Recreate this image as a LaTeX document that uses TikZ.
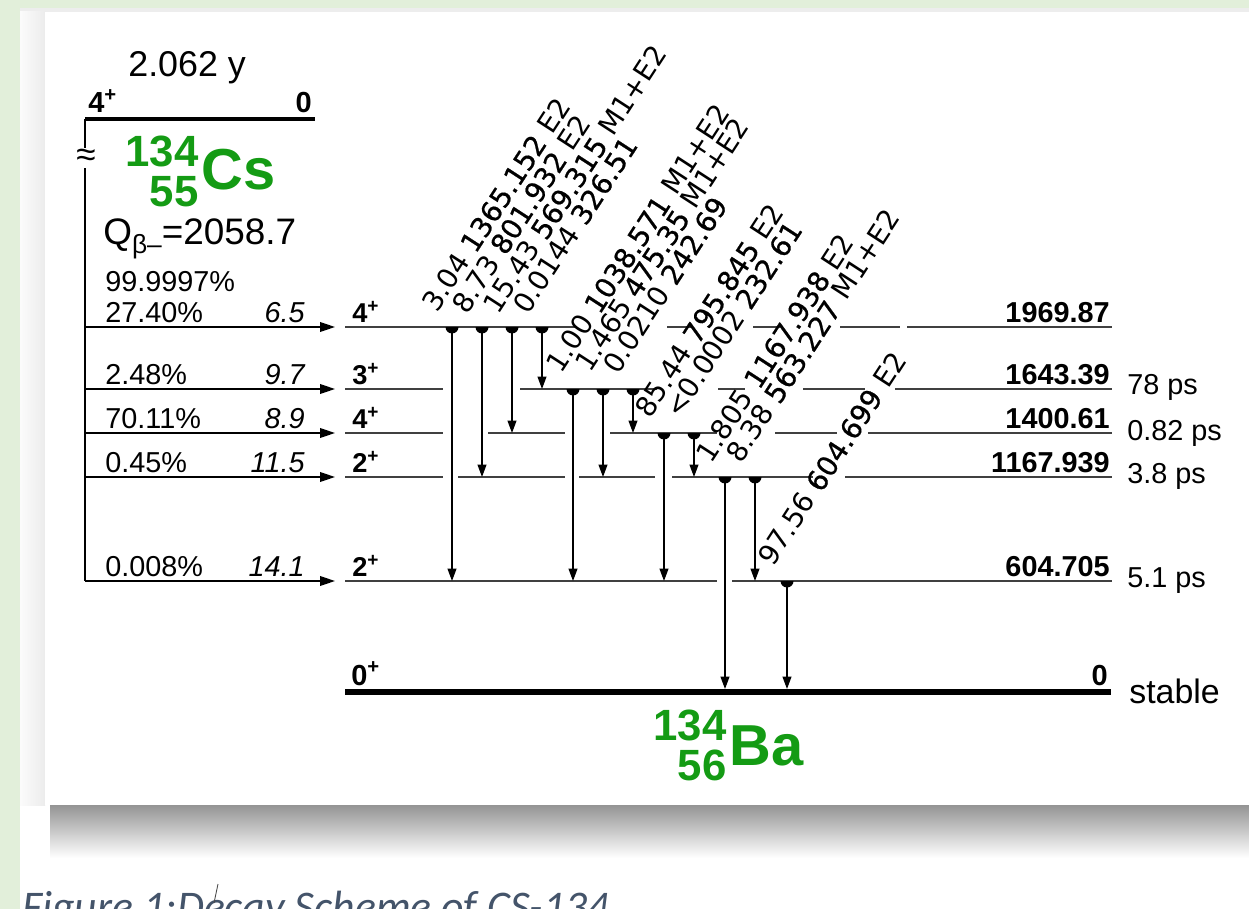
\documentclass[tikz,border=0pt]{standalone}
\usepackage{fontspec}
\setmainfont{Liberation Sans}
\newfontfamily\capfont{Carlito}
\newfontfamily\gamfont[BoldFont=DejaVu Sans, BoldFeatures={FakeBold=0.7}]{DejaVu Sans}
\usetikzlibrary{arrows.meta}
\definecolor{pagegreen}{HTML}{E2EFDA}
\definecolor{nucgreen}{RGB}{20,155,20}
\definecolor{capgray}{HTML}{44546A}
\tikzset{
  lvl/.style={black!75, line width=0.9pt},
  gam/.style={line width=0.85pt, -{Triangle[length=7pt,width=5pt]}},
  feed/.style={line width=0.85pt, -{Triangle[length=8.5pt,width=5.5pt]}},
  glab/.style={rotate=57, anchor=base west, inner sep=0pt, font=\gamfont\fontsize{15.8}{17}\selectfont},
  txt/.style={anchor=base west, inner sep=0pt, font=\fontsize{16.4}{17}\selectfont},
  txtr/.style={anchor=base east, inner sep=0pt, font=\fontsize{16.4}{17}\selectfont},
  spin/.style={anchor=base west, inner sep=0pt, font=\bfseries\fontsize{15.5}{16}\selectfont},
  blob/.pic={\clip (-7,0) rectangle (7,7); \fill (0,0) circle[radius=6.5];}
}
\begin{document}
\begin{tikzpicture}[x=0.02cm, y=-0.02cm]
  \useasboundingbox (0,0) rectangle (1249,909);
  \fill[pagegreen] (0,0) rectangle (1249,909);
  \fill[white] (20,8) rectangle (1249,909);
  \fill[gray!14] (20,8) rectangle (1249,12);
  \shade[left color=gray!3, right color=gray!15] (20,12) rectangle (45,805);
  \shade[top color=black!42, middle color=black!12, bottom color=white] (50,805) rectangle (1249,858);
  \fill[white] (45,12) rectangle (1249,805);
  % parent
  \draw[line width=2.8pt] (85,119) -- (315,119);
  \draw[line width=0.85pt] (85,119) -- (85,581);
  \node[fill=white, inner sep=0.5pt, font=\fontsize{20}{20}\selectfont] (brk) at (86,158) {≈};
  \node[anchor=base west, inner sep=0pt, font=\fontsize{20.4}{21}\selectfont] (thalf) at (128,77) {2.062 y};
  \node[anchor=base west, inner sep=0pt, font=\bfseries\fontsize{16.5}{17}\selectfont] (pspin) at (88,113) {4\textsuperscript{+}};
  \node[anchor=base east, inner sep=0pt, font=\bfseries\fontsize{16.5}{17}\selectfont] (pen) at (312,113) {0};
  \node[anchor=base west, inner sep=0pt, text=nucgreen, font=\bfseries\fontsize{32.9}{33}\selectfont] (cs) at (201,190) {Cs};
  \node[anchor=base east, inner sep=0pt, text=nucgreen, font=\bfseries\fontsize{24.9}{25}\selectfont] (csa) at (199,167) {134};
  \node[anchor=base east, inner sep=0pt, text=nucgreen, font=\bfseries\fontsize{24.9}{25}\selectfont] (csz) at (199,207) {55};
  \node[anchor=base west, inner sep=0pt, font=\fontsize{21}{21}\selectfont] (qval) at (103,245) {Q\raisebox{-0.45ex}{\fontsize{15}{15}\selectfont β–}=2058.7};
  \node[txt] (btot) at (105,292) {99.9997\%};
  % beta feeding
  \coordinate (b1) at (85,327); \coordinate (e1) at (335,327);
  \coordinate (b2) at (85,389); \coordinate (e2) at (335,389);
  \coordinate (b3) at (85,433); \coordinate (e3) at (335,433);
  \coordinate (b4) at (85,477); \coordinate (e4) at (335,477);
  \coordinate (b5) at (85,581); \coordinate (e5) at (335,581);
  \draw[feed] (b1) -- (e1);
  \draw[feed] (b2) -- (e2);
  \draw[feed] (b3) -- (e3);
  \draw[feed] (b4) -- (e4);
  \draw[feed] (b5) -- (e5);
  \node[txt] (p1) at (105,322) {27.40\%};
  \node[txt] (p2) at (105,384) {2.48\%};
  \node[txt] (p3) at (105,428) {70.11\%};
  \node[txt] (p4) at (105,472) {0.45\%};
  \node[txt] (p5) at (105,576) {0.008\%};
  \node[txtr, font=\itshape\fontsize{16.4}{17}\selectfont] (f1) at (305,322) {6.5};
  \node[txtr, font=\itshape\fontsize{16.4}{17}\selectfont] (f2) at (305,384) {9.7};
  \node[txtr, font=\itshape\fontsize{16.4}{17}\selectfont] (f3) at (305,428) {8.9};
  \node[txtr, font=\itshape\fontsize{16.4}{17}\selectfont] (f4) at (305,472) {11.5};
  \node[txtr, font=\itshape\fontsize{16.4}{17}\selectfont] (f5) at (305,576) {14.1};
  % levels
  \draw[lvl] (345,327) -- (577,327) (667,327) -- (693,327) (753,327) -- (780,327) (840,327) -- (900,327) (907,327) -- (1112,327);
  \draw[lvl] (345,389) -- (443,389) (520,389) -- (657,389) (718,389) -- (745,389) (803,389) -- (865,389) (895,389) -- (1112,389);
  \draw[lvl] (345,433) -- (443,433) (488,433) -- (565,433) (610,433) -- (717,433) (775,433) -- (837,433) (868,433) -- (1112,433);
  \draw[lvl] (345,477) -- (443,477) (458,477) -- (565,477) (579,477) -- (655,477) (672,477) -- (813,477) (845,477) -- (1112,477);
  \draw[lvl] (345,581) -- (717,581) (732,581) -- (1112,581);
  \draw[line width=3.4pt] (345,692) -- (1111,692);
  \node[spin] (s1) at (352,322) {4\textsuperscript{+}};
  \node[spin] (s2) at (352,384) {3\textsuperscript{+}};
  \node[spin] (s3) at (352,428) {4\textsuperscript{+}};
  \node[spin] (s4) at (352,472) {2\textsuperscript{+}};
  \node[spin] (s5) at (352,576) {2\textsuperscript{+}};
  \node[spin, font=\bfseries\fontsize{16.5}{17}\selectfont] (s0) at (351,685) {0\textsuperscript{+}};
  \node[txtr, font=\bfseries\fontsize{16.4}{17}\selectfont] (l1) at (1110,322) {1969.87};
  \node[txtr, font=\bfseries\fontsize{16.4}{17}\selectfont] (l2) at (1110,384) {1643.39};
  \node[txtr, font=\bfseries\fontsize{16.4}{17}\selectfont] (l3) at (1110,428) {1400.61};
  \node[txtr, font=\bfseries\fontsize{16.4}{17}\selectfont] (l4) at (1110,472) {1167.939};
  \node[txtr, font=\bfseries\fontsize{16.4}{17}\selectfont] (l5) at (1110,576) {604.705};
  \node[txtr, font=\bfseries\fontsize{16.5}{17}\selectfont] (l0) at (1108,685) {0};
  \node[txt] (h2) at (1127,395) {78 ps};
  \node[txt] (h3) at (1127,440) {0.82 ps};
  \node[txt] (h4) at (1127,483) {3.8 ps};
  \node[txt] (h5) at (1127,587) {5.1 ps};
  \node[txt, font=\fontsize{19.3}{20}\selectfont] (h0) at (1129,703) {stable};
  \node[anchor=base west, inner sep=0pt, text=nucgreen, font=\bfseries\fontsize{32.9}{33}\selectfont] (ba) at (729,765) {Ba};
  \node[anchor=base east, inner sep=0pt, text=nucgreen, font=\bfseries\fontsize{24.9}{25}\selectfont] (baa) at (727,740) {134};
  \node[anchor=base east, inner sep=0pt, text=nucgreen, font=\bfseries\fontsize{24.9}{25}\selectfont] (baz) at (727,780) {56};
  % gamma transitions
  \coordinate (g1t) at (452,327); \coordinate (g1b) at (452,581);
  \coordinate (g2t) at (482,327); \coordinate (g2b) at (482,477);
  \coordinate (g3t) at (512,327); \coordinate (g3b) at (512,433);
  \coordinate (g4t) at (542,327); \coordinate (g4b) at (542,389);
  \coordinate (g5t) at (573,389); \coordinate (g5b) at (573,581);
  \coordinate (g6t) at (603,389); \coordinate (g6b) at (603,477);
  \coordinate (g7t) at (633,389); \coordinate (g7b) at (633,433);
  \coordinate (g8t) at (664,433); \coordinate (g8b) at (664,581);
  \coordinate (g9t) at (694,433); \coordinate (g9b) at (694,477);
  \coordinate (g10t) at (725,477); \coordinate (g10b) at (725,689);
  \coordinate (g11t) at (755,477); \coordinate (g11b) at (755,581);
  \coordinate (g12t) at (787,581); \coordinate (g12b) at (787,689);
  \draw[gam] (g1t) -- (g1b);   \pic at (g1t) {blob};
  \draw[gam] (g2t) -- (g2b);   \pic at (g2t) {blob};
  \draw[gam] (g3t) -- (g3b);   \pic at (g3t) {blob};
  \draw[gam] (g4t) -- (g4b);   \pic at (g4t) {blob};
  \draw[gam] (g5t) -- (g5b);   \pic at (g5t) {blob};
  \draw[gam] (g6t) -- (g6b);   \pic at (g6t) {blob};
  \draw[gam] (g7t) -- (g7b);   \pic at (g7t) {blob};
  \draw[gam] (g8t) -- (g8b);   \pic at (g8t) {blob};
  \draw[gam] (g9t) -- (g9b);   \pic at (g9t) {blob};
  \draw[gam] (g10t) -- (g10b); \pic at (g10t) {blob};
  \draw[gam] (g11t) -- (g11b); \pic at (g11t) {blob};
  \draw[gam] (g12t) -- (g12b); \pic at (g12t) {blob};
  \node[glab] (g1l) at (437,314) {3.04 \textbf{1365.152} E2};
  \node[glab] (g2l) at (467,316) {8.73 \textbf{801.932} E2};
  \node[glab] (g3l) at (498,316) {15.43 \textbf{569.315} M1+E2};
  \node[glab] (g4l) at (528,316) {0.0144 \textbf{326.51}};
  \node[glab] (g5l) at (561,375) {1.00 \textbf{1038.571} M1+E2};
  \node[glab] (g6l) at (590,374) {1.465 \textbf{475.35} M1+E2};
  \node[glab] (g7l) at (618,376) {0.0210 \textbf{242.69}};
  \node[glab] (g8l) at (650,420) {85.44 \textbf{795.845} E2};
  \node[glab] (g9l) at (680,420) {<0.0002 \textbf{232.61}};
  \node[glab] (g10l) at (711,465) {1.805 \textbf{1167.938} E2};
  \node[glab] (g11l) at (741,465) {8.38 \textbf{563.227} M1+E2};
  \node[glab] (g12l) at (773,568) {97.56 \textbf{604.699} E2};
  % caption
  \node[anchor=base west, inner sep=0pt, text=capgray, font=\capfont\itshape\fontsize{24.9}{25}\selectfont] (cap) at (22,921) {Figure 1:Decay Scheme of CS-134};
  \draw[black!70, line width=0.5pt] (218,884) -- (214,903);
\end{tikzpicture}
\end{document}
